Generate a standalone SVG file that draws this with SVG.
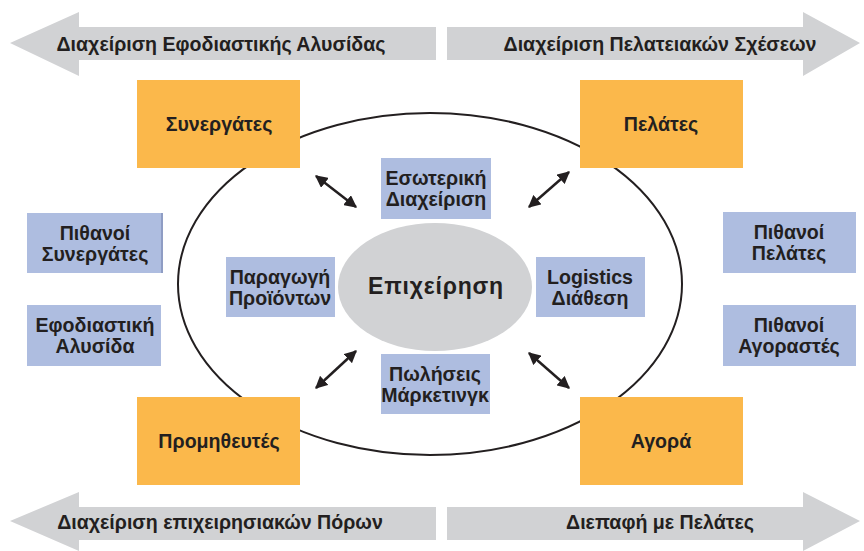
<svg xmlns="http://www.w3.org/2000/svg" width="864" height="551" viewBox="0 0 864 551">
<style>
.band{fill:#d1d2d4}
.org{fill:#fbb84b}
.blue{fill:#aebde0}
.t{font-family:"Liberation Sans",Arial,sans-serif;font-weight:bold;fill:#231f20;text-anchor:middle}
.s17{font-size:19.6px}
.s16{font-size:19.6px}
.link{stroke:#231f20;stroke-width:2.5;fill:none;marker-start:url(#ah);marker-end:url(#ah)}
</style>
<defs>
<marker id="ah" viewBox="0 0 10 10" refX="9" refY="5" markerWidth="5" markerHeight="5" orient="auto-start-reverse" markerUnits="strokeWidth">
<path d="M0,0 L10,5 L0,10 Z" fill="#231f20"/>
</marker>
</defs>
<rect width="864" height="551" fill="#ffffff"/>
<g id="bands">
<g id="band-scm"><polygon class="band" points="10,43 79,12 79,27 436,27 436,60 79,60 79,76"/><text class="t s17" x="221" y="51">Διαχείριση Εφοδιαστικής Αλυσίδας</text></g>
<g id="band-crm"><polygon class="band" points="447,27 803,27 803,12 860,43 803,76 803,60 447,60"/><text class="t s17" x="660" y="51">Διαχείριση Πελατειακών Σχέσεων</text></g>
<g id="band-erp"><polygon class="band" points="10,521 79,492 79,507 436,507 436,540 79,540 79,551"/><text class="t s17" x="220" y="529">Διαχείριση επιχειρησιακών Πόρων</text></g>
<g id="band-ci"><polygon class="band" points="447,507 803,507 803,492 860,521 803,551 803,540 447,540"/><text class="t s17" x="660" y="529">Διεπαφή με Πελάτες</text></g>
</g>
<ellipse id="outer" cx="430" cy="284" rx="252" ry="171" fill="none" stroke="#231f20" stroke-width="2"/>
<g id="connectors">
<line class="link" x1="316" y1="176" x2="356" y2="207"/>
<line class="link" x1="569" y1="172" x2="529" y2="207"/>
<line class="link" x1="316" y1="388" x2="356" y2="351"/>
<line class="link" x1="529" y1="353" x2="569" y2="388"/>
</g>
<g id="n-center"><ellipse cx="435" cy="287" rx="97" ry="64" fill="#d1d2d4"/><text class="t" font-size="23" letter-spacing="0.8" x="436" y="294">Επιχείρηση</text></g>
<g id="n-synergates"><rect class="org" x="137" y="80" width="163" height="88"/><text class="t s17" x="219" y="131">Συνεργάτες</text></g>
<g id="n-pelates"><rect class="org" x="580" y="80" width="163" height="88"/><text class="t s17" x="661" y="131">Πελάτες</text></g>
<g id="n-promitheftes"><rect class="org" x="137" y="397" width="163" height="88"/><text class="t s17" x="219" y="448">Προμηθευτές</text></g>
<g id="n-agora"><rect class="org" x="580" y="397" width="163" height="88"/><text class="t s17" x="661" y="448">Αγορά</text></g>
<g id="n-esoteriki"><rect class="blue" x="381" y="158" width="110" height="61"/><text class="t s16" x="436" y="185">Εσωτερική</text><text class="t s16" x="436" y="206">Διαχείριση</text></g>
<g id="n-poliseis"><rect class="blue" x="381" y="354" width="109" height="60"/><text class="t s16" x="435" y="381">Πωλήσεις</text><text class="t s16" x="435" y="402">Μάρκετινγκ</text></g>
<g id="n-paragogi"><rect class="blue" x="226" y="257" width="109" height="60"/><text class="t s16" x="280" y="284">Παραγωγή</text><text class="t s16" x="280" y="305">Προϊόντων</text></g>
<g id="n-logistics"><rect class="blue" x="536" y="257" width="109" height="60"/><text class="t s16" x="590" y="284">Logistics</text><text class="t s16" x="590" y="305">Διάθεση</text></g>
<g id="n-pith-syn"><rect class="blue" x="27" y="213" width="136" height="60"/><rect x="161" y="213" width="2" height="60" fill="#8f9dc4"/><text class="t s16" x="95" y="240">Πιθανοί</text><text class="t s16" x="95" y="261">Συνεργάτες</text></g>
<g id="n-efod"><rect class="blue" x="27" y="305" width="134" height="61"/><text class="t s16" x="95" y="332">Εφοδιαστική</text><text class="t s16" x="95" y="353">Αλυσίδα</text></g>
<g id="n-pith-pel"><rect class="blue" x="723" y="212" width="133" height="61"/><text class="t s16" x="789" y="239">Πιθανοί</text><text class="t s16" x="789" y="260">Πελάτες</text></g>
<g id="n-pith-ag"><rect class="blue" x="723" y="305" width="133" height="61"/><text class="t s16" x="789" y="332">Πιθανοί</text><text class="t s16" x="789" y="353">Αγοραστές</text></g>
</svg>
